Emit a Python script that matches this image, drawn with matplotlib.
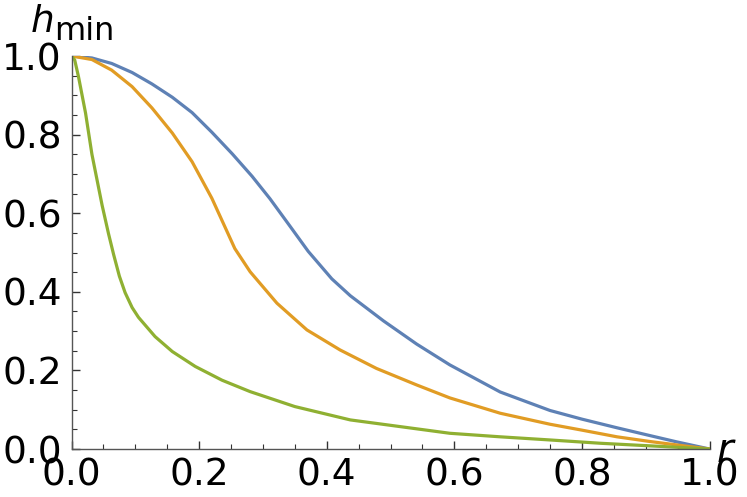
import matplotlib
matplotlib.use("Agg")
import matplotlib.pyplot as plt
from matplotlib.ticker import MultipleLocator

# data
r_blue = [0, 0.032, 0.063, 0.095, 0.126, 0.158, 0.189, 0.22, 0.252, 0.283, 0.311, 0.342,
          0.371, 0.408, 0.437, 0.489, 0.541, 0.593, 0.672, 0.75, 0.80, 0.855, 0.907, 0.949, 1.0]
h_blue = [1.0, 0.995, 0.981, 0.958, 0.929, 0.895, 0.856, 0.806, 0.751, 0.694, 0.637, 0.568,
          0.503, 0.433, 0.39, 0.326, 0.267, 0.214, 0.145, 0.098, 0.076, 0.054, 0.034, 0.018, 0.0]

r_orange = [0, 0.032, 0.063, 0.095, 0.126, 0.158, 0.189, 0.22, 0.256, 0.28, 0.322, 0.369,
            0.421, 0.478, 0.541, 0.593, 0.672, 0.75, 0.80, 0.855, 0.907, 0.96, 1.0]
h_orange = [1.0, 0.991, 0.964, 0.922, 0.868, 0.804, 0.731, 0.638, 0.51, 0.451, 0.371, 0.303,
            0.252, 0.205, 0.163, 0.13, 0.091, 0.063, 0.048, 0.031, 0.019, 0.008, 0.0]

r_green = [0, 0.005, 0.011, 0.022, 0.032, 0.04, 0.048, 0.058, 0.066, 0.075, 0.084, 0.095,
           0.105, 0.131, 0.158, 0.194, 0.236, 0.28, 0.35, 0.437, 0.593, 0.672, 0.75, 0.83,
           0.907, 1.0]
h_green = [1.0, 0.99, 0.947, 0.855, 0.75, 0.685, 0.62, 0.548, 0.495, 0.44, 0.398, 0.36,
           0.335, 0.286, 0.248, 0.21, 0.175, 0.146, 0.108, 0.074, 0.04, 0.031, 0.023, 0.0145,
           0.008, 0.0]

x_ticks = [0.0, 0.2, 0.4, 0.6, 0.8, 1.0]
y_ticks = [0.0, 0.2, 0.4, 0.6, 0.8, 1.0]

W, H = 747, 497
fig = plt.figure(figsize=(W / 100, H / 100), dpi=100)
ax = fig.add_axes([71.5 / W, 48 / H, (709.5 - 71.5) / W, (449 - 56) / H])

for rr, hh, c in [(r_blue, h_blue, "#5E81B5"), (r_orange, h_orange, "#E19C24"),
                  (r_green, h_green, "#8FB032")]:
    ax.plot(rr, hh, color=c, lw=2.3, solid_capstyle="round", solid_joinstyle="round")

ax.set_xlim(0, 1)
ax.set_ylim(0, 1)
for s in ["top", "right"]:
    ax.spines[s].set_visible(False)
for s in ["left", "bottom"]:
    ax.spines[s].set_color("#555555")
    ax.spines[s].set_linewidth(1.0)

ax.set_xticks(x_ticks)
ax.set_yticks(y_ticks)
ax.set_xticklabels([f"{v:.1f}" for v in x_ticks])
ax.set_yticklabels([f"{v:.1f}" for v in y_ticks])
ax.xaxis.set_minor_locator(MultipleLocator(0.05))
ax.yaxis.set_minor_locator(MultipleLocator(0.05))
ax.tick_params(which="major", direction="in", length=5.5, width=1.0, color="#333333",
               labelsize=27, pad=7)
ax.tick_params(which="minor", direction="in", length=3.5, width=0.8, color="#333333")
ax.tick_params(axis="x", which="major", pad=6)

fig.text(30 / W, 1 - 32 / H, "$h$", fontsize=27, ha="left", va="baseline")
fig.text(54 / W, 1 - 40 / H, "min", fontsize=23, ha="left", va="baseline")
fig.text(716 / W, 1 - 462 / H, "$r$", fontsize=29, ha="left", va="baseline")

fig.savefig("out.png", dpi=100)
